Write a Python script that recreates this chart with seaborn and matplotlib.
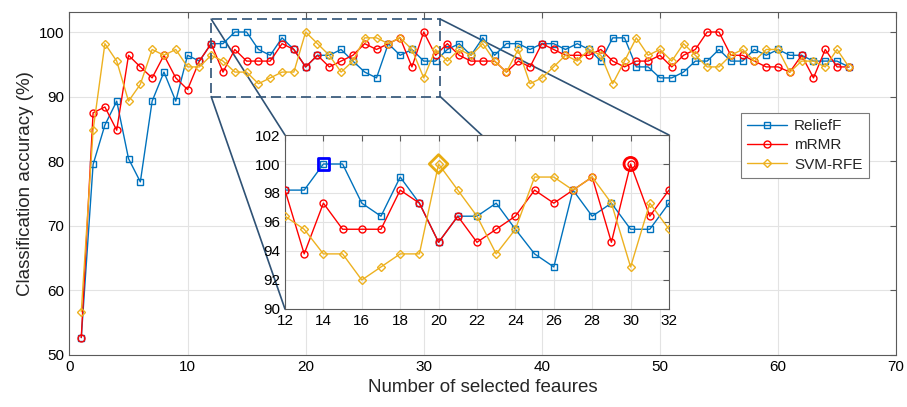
import numpy as np
import pandas as pd
import matplotlib
matplotlib.use("Agg")
import matplotlib.pyplot as plt
import seaborn as sns
from matplotlib.patches import Rectangle, ConnectionPatch
from matplotlib.lines import Line2D

# ---------------- data ----------------
n_features = list(range(1, 67))
relieff = [52.7, 79.5, 85.6, 89.3, 80.4, 76.8, 89.3, 93.8, 89.3, 96.4,
           95.5, 98.2, 98.2, 100.0, 100.0, 97.3, 96.4, 99.1, 97.3, 94.6,
           96.4, 96.4, 97.3, 95.5, 93.8, 92.9, 98.2, 96.4, 97.3, 95.5,
           95.5, 97.3, 98.2, 96.4, 99.1, 96.4, 98.2, 98.2, 97.3, 98.2,
           98.2, 97.3, 98.2, 97.3, 95.5, 99.1, 99.1, 94.6, 94.6, 92.9,
           92.9, 93.8, 95.5, 95.5, 97.3, 95.5, 95.5, 97.3, 96.4, 97.3,
           96.4, 96.4, 95.5, 95.5, 95.5, 94.6]
mrmr = [52.7, 87.5, 88.4, 84.8, 96.4, 94.6, 92.9, 96.4, 92.9, 91.1,
        95.5, 98.2, 93.8, 97.3, 95.5, 95.5, 95.5, 98.2, 97.3, 94.6,
        96.4, 94.6, 95.5, 96.4, 98.2, 97.3, 98.2, 99.1, 94.6, 100.0,
        96.4, 98.2, 96.4, 95.5, 95.5, 95.5, 93.8, 95.5, 94.6, 98.2,
        97.3, 96.4, 96.4, 96.4, 97.3, 95.5, 94.6, 95.5, 95.5, 96.4,
        94.6, 96.4, 97.3, 100.0, 100.0, 96.4, 96.4, 95.5, 94.6, 94.6,
        93.8, 96.4, 92.9, 97.3, 94.6, 94.6]
svm_rfe = [56.7, 84.8, 98.2, 95.5, 89.3, 91.9, 97.3, 96.4, 97.3, 94.6,
           94.6, 96.4, 95.5, 93.8, 93.8, 92.0, 92.9, 93.8, 93.8, 100.0,
           98.2, 96.4, 93.8, 95.5, 99.1, 99.1, 98.2, 99.1, 97.3, 92.9,
           97.3, 95.5, 97.3, 96.4, 98.2, 95.5, 93.8, 97.3, 92.0, 92.9,
           94.6, 96.4, 95.5, 97.3, 96.4, 92.0, 95.5, 99.1, 96.4, 97.3,
           95.5, 98.2, 96.4, 94.6, 94.6, 96.4, 97.3, 95.5, 97.3, 97.3,
           93.8, 95.5, 95.5, 94.6, 97.3, 94.6]
methods = ["ReliefF", "mRMR", "SVM-RFE"]
x_ticks_main = [0, 10, 20, 30, 40, 50, 60, 70]
y_ticks_main = [50, 60, 70, 80, 90, 100]
x_ticks_inset = list(range(12, 33, 2))
y_ticks_inset = list(range(90, 103, 2))

df = pd.DataFrame({
    "n": n_features * 3,
    "acc": relieff + mrmr + svm_rfe,
    "method": [m for m in methods for _ in n_features],
})

colors = {"ReliefF": "#0072BD", "mRMR": "#FF0000", "SVM-RFE": "#EDB120"}
markers = {"ReliefF": "s", "mRMR": "o", "SVM-RFE": "D"}
msize = {"ReliefF": 4, "mRMR": 5, "SVM-RFE": 4.2}

# ---------------- style ----------------
sns.set_style("white")
plt.rcParams["font.family"] = ["Liberation Sans", "DejaVu Sans"]
plt.rcParams["xtick.direction"] = "in"
plt.rcParams["ytick.direction"] = "in"

fig = plt.figure(figsize=(9.07, 4.07), dpi=100)
ax = fig.add_axes([0.0766, 0.1278, 0.9114, 0.8427])

spine_col = "#5a5a5a"
grid_col = "#e3e3e3"


def draw_series(a):
    sns.lineplot(data=df, x="n", y="acc", hue="method", style="method",
                 palette=colors, markers=markers, dashes=False,
                 linewidth=1.0, ax=a, legend=False, zorder=3)
    for line, m in zip(a.lines[-3:], methods):
        line.set_markerfacecolor("none")
        line.set_markeredgecolor(colors[m])
        line.set_markeredgewidth(1.0)
        line.set_markersize(msize[m])


def style_axes(a, fs):
    for s in a.spines.values():
        s.set_color(spine_col)
        s.set_linewidth(0.8)
    a.tick_params(which="both", top=True, right=True, direction="in",
                  colors=spine_col, labelcolor="black", labelsize=fs,
                  length=4, width=0.8)
    a.grid(True, color=grid_col, linewidth=0.8, zorder=0)
    a.set_axisbelow(True)


draw_series(ax)
ax.set_xlim(0, 70)
ax.set_ylim(50, 103.1)
ax.set_xticks(x_ticks_main)
ax.set_yticks(y_ticks_main)
style_axes(ax, 11)
ax.set_xlabel("Number of selected feaures", fontsize=13.5, labelpad=4)
ax.set_ylabel("Classification accuracy (%)", fontsize=13.5, labelpad=4)

# zoom rectangle
box_col = "#2F5275"
rect = Rectangle((12, 90), 19.4, 12, fill=False, linestyle=(0, (6, 3)),
                 linewidth=1.2, edgecolor=box_col, zorder=4)
ax.add_patch(rect)

# inset axes
axins = fig.add_axes([0.3142, 0.2408, 0.4234, 0.4275])
axins.set_facecolor("white")
draw_series(axins)
axins.set_xlim(12, 32)
axins.set_ylim(90, 102)
axins.set_xticks(x_ticks_inset)
axins.set_yticks(y_ticks_inset)
style_axes(axins, 11)

# highlight the maxima inside the zoom window
sub = df[(df["n"] >= 12) & (df["n"] <= 32)]
hl_style = {"ReliefF": dict(marker="s", s=70, ec="#0000FF", lw=2.0),
            "mRMR": dict(marker="o", s=90, ec="#FF0000", lw=2.0),
            "SVM-RFE": dict(marker="D", s=90, ec="#E8AC10", lw=2.0)}
for m in methods:
    d = sub[sub["method"] == m]
    best = d.loc[[d["acc"].idxmax()]]
    st = hl_style[m]
    sns.scatterplot(data=best, x="n", y="acc", marker=st["marker"], s=st["s"],
                    facecolor="none", edgecolor=st["ec"], linewidth=st["lw"],
                    ax=axins, zorder=5, legend=False)
axins.set_xlabel("")
axins.set_ylabel("")

# connector lines from rectangle corners to inset corners
corners = [((12, 102), (0, 1)), ((12, 90), (0, 0)),
           ((31.4, 102), (1, 1)), ((31.4, 90), (1, 0))]
for pa, pb in corners:
    con = ConnectionPatch(xyA=pa, coordsA="data", axesA=ax,
                          xyB=pb, coordsB="axes fraction", axesB=axins,
                          color=box_col, linewidth=1.2, zorder=2)
    ax.add_artist(con)

# legend
handles = [Line2D([], [], color=colors[m], marker=markers[m],
                  markersize=msize[m], markerfacecolor="none",
                  markeredgecolor=colors[m], lw=1.0)
           for m in methods]
leg = ax.legend(handles, methods, loc="upper left",
                bbox_to_anchor=(0.812, 0.706), borderaxespad=0,
                fontsize=11, fancybox=False, framealpha=1,
                edgecolor="#7a7a7a", handlelength=2.6, handletextpad=0.5,
                labelspacing=0.35, borderpad=0.4)
leg.get_frame().set_linewidth(0.8)

fig.savefig("out.png", dpi=100)
